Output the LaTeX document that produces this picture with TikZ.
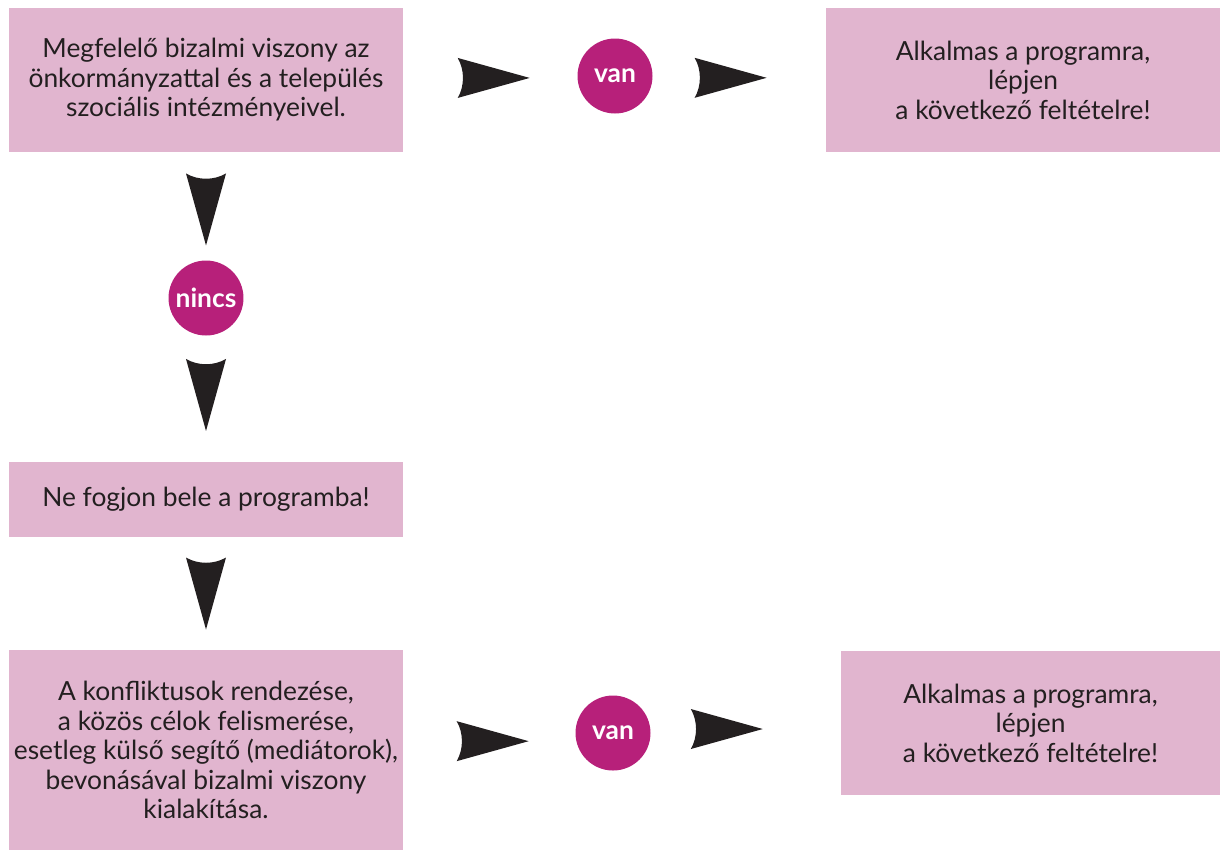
\documentclass[tikz,border=0pt]{standalone}
\usepackage{fontspec}
\setmainfont{Lato}
\usetikzlibrary{calc}
\definecolor{boxpink}{RGB}{225,181,207}
\definecolor{dotmagenta}{RGB}{183,32,122}
\definecolor{arrowblack}{RGB}{35,31,32}

\tikzset{
    textbox/.style={fill=boxpink, text=arrowblack, align=center, inner sep=0pt,
        minimum width=7.88cm, font=\fontsize{15}{16.8}\selectfont},
    dot/.style={circle, fill=dotmagenta, text=white, inner sep=0pt,
        minimum size=1.5cm, font=\fontsize{15}{18}\selectfont\bfseries},
    flowarrow/.pic={
        \fill[arrowblack] (-36,20) .. controls (-29,8) and (-29,-8) .. (-36,-20) -- (36,0) -- cycle;
    }
}

\begin{document}
\begin{tikzpicture}[x=0.02cm, y=-0.02cm]
    \useasboundingbox (0,0) rectangle (1226,850);
    \node[textbox, minimum height=2.88cm] (keres) at (206,80)
        {Megfelelő bizalmi viszony az\\önkormányzattal és a település\\szociális intézményeivel.};
    \node[textbox, minimum height=2.88cm] (alkalmas) at (1023,80)
        {Alkalmas a programra,\\lépjen\\a következő feltételre!};
    \node[textbox, minimum height=1.5cm] (nefogjon) at (206,499.5)
        {Ne fogjon bele a programba!};
    \node[textbox, minimum height=4cm] (rendezes) at (206,750)
        {A konfliktusok rendezése,\\a közös célok felismerése,\\esetleg külső segítő (mediátorok),\\bevonásával bizalmi viszony\\kialakítása.};
    \node[textbox, minimum width=7.58cm, minimum height=2.88cm] (alkalmaslent) at (1030.5,723)
        {Alkalmas a programra,\\lépjen\\a következő feltételre!};
    \node[dot] (van) at (615,76) {van};
    \node[dot] (nincs) at (206,298) {nincs};
    \node[dot] (vanlent) at (613,733) {van};

    \pic at ($(keres.east)!0.52!(van.west)$) {flowarrow};
    \pic at ($(van.east)!0.45!(alkalmas.west)$ |- van) {flowarrow};
    \pic[rotate=-90] at ($(keres.south)!0.53!(nincs.north)$) {flowarrow};
    \pic[rotate=-90] at ($(nincs.south)!0.47!(nefogjon.north)$) {flowarrow};
    \pic[rotate=-90] at ($(nefogjon.south)!0.5!(rendezes.north)$) {flowarrow};
    \pic at ($(rendezes.east)!0.52!(vanlent.west)$ |- vanlent) {flowarrow};
    \pic at ($(vanlent.east)!0.4!(alkalmaslent.west)$ |- vanlent) {flowarrow};
\end{tikzpicture}
\end{document}
